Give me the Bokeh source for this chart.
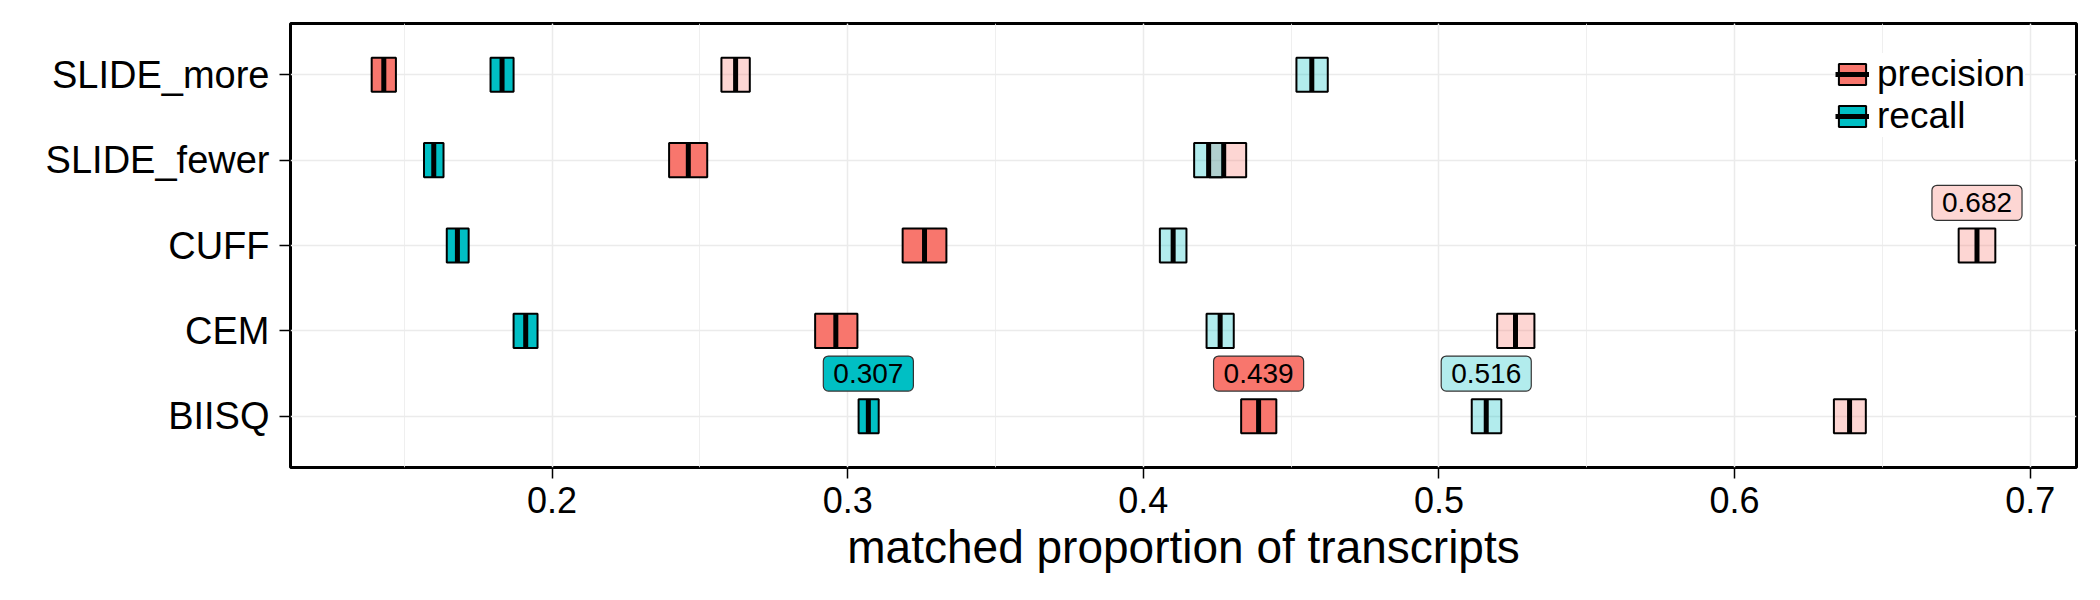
from bokeh.plotting import figure
from bokeh.models import (ColumnDataSource, FactorRange, Range1d, SingleIntervalTicker,
                          Legend, LegendItem)
from bokeh.core.properties import value
from bokeh.embed import file_html
from bokeh.resources import INLINE

# ---- data -------------------------------------------------------------
methods = ["BIISQ", "CEM", "CUFF", "SLIDE_fewer", "SLIDE_more"]

# group A (solid fill): low / estimate / high
precision_a_low  = [0.4331, 0.2890, 0.3186, 0.2396, 0.1390]
precision_a_mid  = [0.4390, 0.2960, 0.3260, 0.2461, 0.1431]
precision_a_high = [0.4450, 0.3033, 0.3334, 0.2525, 0.1472]

recall_a_low  = [0.3037, 0.1870, 0.1644, 0.1567, 0.1792]
recall_a_mid  = [0.3070, 0.1911, 0.1680, 0.1600, 0.1831]
recall_a_high = [0.3105, 0.1951, 0.1718, 0.1633, 0.1870]

# group B (faded fill): low / estimate / high
precision_b_low  = [0.6336, 0.5197, 0.6758, 0.4223, 0.2573]
precision_b_mid  = [0.6389, 0.5259, 0.6820, 0.4272, 0.2621]
precision_b_high = [0.6444, 0.5323, 0.6882, 0.4348, 0.2669]

recall_b_low  = [0.5111, 0.4214, 0.4056, 0.4172, 0.4518]
recall_b_mid  = [0.5160, 0.4260, 0.4101, 0.4221, 0.4570]
recall_b_high = [0.5211, 0.4306, 0.4146, 0.4268, 0.4624]

# ---- style ------------------------------------------------------------
FONT_NAME = "Liberation Sans"
COLORS = {"precision": "#F8766D", "recall": "#00BFC4"}
ALPHAS = {"a": 1.0, "b": 0.3}
BOX_HALF = 0.2      # half box height, category units
LABEL_NUDGE = 0.5   # label offset above the row

series = [
    ("precision", "b", precision_b_low, precision_b_mid, precision_b_high),
    ("precision", "a", precision_a_low, precision_a_mid, precision_a_high),
    ("recall", "b", recall_b_low, recall_b_mid, recall_b_high),
    ("recall", "a", recall_a_low, recall_a_mid, recall_a_high),
]

all_low = [v for s in series for v in s[2]]
all_high = [v for s in series for v in s[4]]
span = max(all_high) - min(all_low)
x_start = min(all_low) - 0.05 * span
x_end = max(all_high) + 0.05 * span

p = figure(
    width=2100, height=600,
    x_range=Range1d(x_start, x_end),
    y_range=FactorRange(factors=methods, range_padding=0.1, range_padding_units="absolute"),
    output_backend="svg", toolbar_location=None,
    min_border_left=290, min_border_right=24, min_border_top=23, min_border_bottom=133,
    background_fill_color="white", border_fill_color="white",
)

p.outline_line_color = "black"
p.outline_line_width = 3

# grid
p.xgrid.grid_line_color = "#EBEBEB"
p.xgrid.grid_line_width = 1.5
p.xgrid.minor_grid_line_color = "#EBEBEB"
p.xgrid.minor_grid_line_width = 0.8
p.ygrid.grid_line_color = "#EBEBEB"
p.ygrid.grid_line_width = 1.5

# axes
p.xaxis.ticker = SingleIntervalTicker(interval=0.1, num_minor_ticks=2)
for ax in (p.xaxis[0], p.yaxis[0]):
    ax.axis_line_color = None
    ax.major_tick_in = 0
    ax.major_tick_out = 11
    ax.major_tick_line_color = "black"
    ax.major_tick_line_width = 1.5
    ax.minor_tick_line_color = None
    ax.major_label_text_font = FONT_NAME
    ax.major_label_text_color = "black"

p.xaxis.major_label_text_font_size = "36px"
p.xaxis.major_label_standoff = 8
p.yaxis.major_label_text_font_size = "38px"
p.yaxis.major_label_standoff = 10

p.xaxis.axis_label = "matched proportion of transcripts"
p.xaxis.axis_label_text_font = FONT_NAME
p.xaxis.axis_label_text_font_size = "46px"
p.xaxis.axis_label_text_font_style = "normal"
p.xaxis.axis_label_text_color = "black"
p.xaxis.axis_label_standoff = 5

# crossbars
legend_parts = {}
label_rows = {"x": [], "y": [], "text": [], "bg": [], "bga": []}
for metric, grp, low, mid, high in series:
    src = ColumnDataSource(dict(
        method=methods, low=low, mid=mid, high=high,
        y0=[(m, -BOX_HALF) for m in methods],
        y1=[(m, BOX_HALF) for m in methods],
    ))
    bar = p.hbar(y="method", left="low", right="high", height=2 * BOX_HALF, source=src,
                 fill_color=COLORS[metric], fill_alpha=ALPHAS[grp],
                 line_color="black", line_width=2)
    mline = p.segment(x0="mid", x1="mid", y0="y0", y1="y1", source=src,
                      line_color="black", line_width=5, line_cap="butt")
    if grp == "a":
        legend_parts[metric] = [bar, mline]
    # annotate the best estimate of each series
    i = max(range(len(mid)), key=lambda k: mid[k])
    label_rows["x"].append(mid[i])
    label_rows["y"].append((methods[i], LABEL_NUDGE))
    label_rows["text"].append(f"{mid[i]:.3f}")
    label_rows["bg"].append(COLORS[metric])
    label_rows["bga"].append(ALPHAS[grp])

p.text(x="x", y="y", text="text", source=ColumnDataSource(label_rows),
       text_font=value(FONT_NAME), text_font_size="28px", text_color="black",
       text_align="center", text_baseline="middle",
       background_fill_color="bg", background_fill_alpha="bga",
       border_line_color="#333333", border_line_width=1.2,
       border_radius=5, padding=(10, 8))

# one legend per entry so the two rows sit tightly stacked
def make_legend(label, y_pos):
    return Legend(
        items=[LegendItem(label=label, renderers=legend_parts[label])],
        location=(1545, y_pos),
        padding=0, spacing=0, margin=0,
        glyph_width=34, glyph_height=26, label_standoff=8,
        label_text_font=FONT_NAME, label_text_font_size="37px", label_text_color="black",
        background_fill_color="white", background_fill_alpha=1.0,
        border_line_color=None,
    )

p.add_layout(make_legend("recall", 330))
p.add_layout(make_legend("precision", 372))

open("out.html", "w").write(file_html(p, INLINE))
